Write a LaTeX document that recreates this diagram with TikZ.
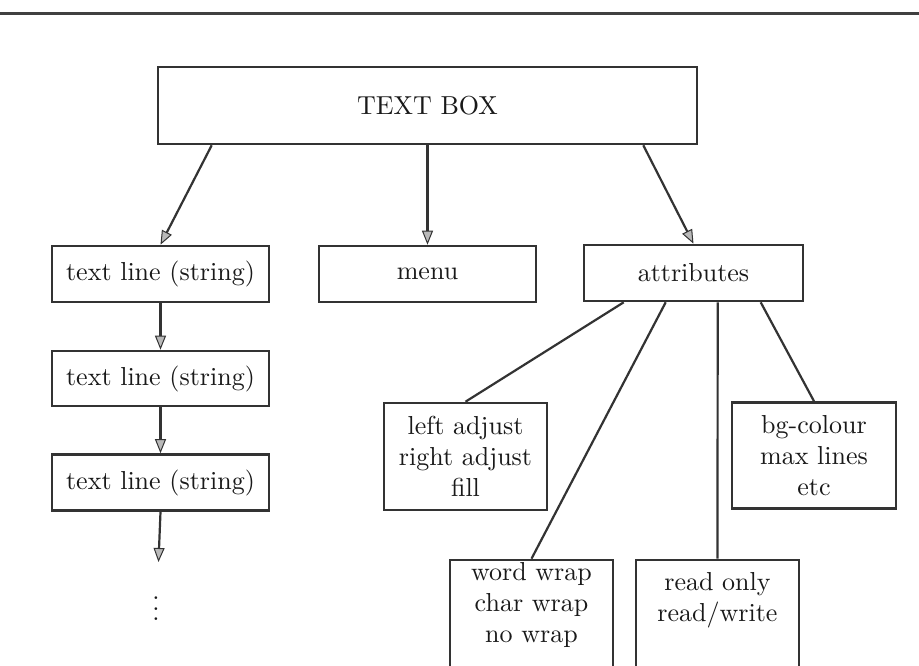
\documentclass[tikz,border=0pt]{standalone}
\usepackage{fontspec}
\setmainfont{lmroman10-regular.otf}
\usetikzlibrary{arrows.meta}
\begin{document}
\begin{tikzpicture}[x=1pt,y=-1pt,
  every node/.style={font=\fontsize{26}{31}\selectfont, text=black!90},
  boxst/.style={draw=black!80, line width=2.6pt, rectangle, inner sep=0pt, align=center},
  lnk/.style={draw=black!80, line width=2.2pt},
  arr/.style={lnk, -{Triangle[length=14pt,width=11pt,line width=1pt,fill=gray!55]}},
  txt/.style={align=center, inner sep=0pt}
]
\clip (0,0) rectangle (919,665);
\fill[white] (0,0) rectangle (919,665);
% top rule
\coordinate (rl) at (0,13);
\coordinate (rr) at (919,13);
\draw[black!75, line width=3pt] (rl) -- (rr);

% nodes
\node[boxst, minimum width=539pt, minimum height=77pt] (tb) at (427.5,105.5) {TEXT BOX};
\node[boxst, minimum width=217pt, minimum height=56pt] (tl1) at (160.5,274) {text line (string)};
\node[boxst, minimum width=217pt, minimum height=55pt] (tl2) at (160.5,378.5) {text line (string)};
\node[boxst, minimum width=217pt, minimum height=56pt] (tl3) at (160.5,482.5) {text line (string)};
\node[boxst, minimum width=217pt, minimum height=56pt] (menu) at (427.5,274) {menu};
\node[boxst, minimum width=219pt, minimum height=56pt] (attr) at (693.5,273) {attributes};
\node[boxst, minimum width=163pt, minimum height=107pt] (la) at (465.5,456.5) {left adjust\\right adjust\\fill};
\node[boxst, minimum width=164pt, minimum height=106pt] (bg) at (814,455.5) {bg-colour\\max lines\\etc};
\node[boxst, minimum width=163pt, minimum height=160pt] (ww) at (531.5,640) {};
\node[txt] (wwt) at (531.5,605) {word wrap\\char wrap\\no wrap};
\node[boxst, minimum width=163pt, minimum height=160pt] (ro) at (717.5,640) {};
\node[txt] (rot) at (717.5,600) {read only\\read/write};
\node[txt, font=\fontsize{26}{10.5}\selectfont] (dots) at (156,609) {.\\.\\.};
\coordinate (tlend) at (158.5,562);

% connectors
\draw[arr] ([xshift=55pt]tb.south west) -- (tl1.north);
\draw[arr] (tb.south) -- (menu.north);
\draw[arr] ([xshift=-55pt]tb.south east) -- (attr.north);
\draw[arr] (tl1.south) -- (tl2.north);
\draw[arr] (tl2.south) -- (tl3.north);
\draw[arr] (tl3.south) -- (tlend);

\draw[lnk] ([xshift=41pt]attr.south west) -- (la.north);
\draw[lnk] ([xshift=83pt]attr.south west) -- (ww.north);
\draw[lnk] ([xshift=135pt]attr.south west) -- (ro.north);
\draw[lnk] ([xshift=178pt]attr.south west) -- (bg.north);
\end{tikzpicture}
\end{document}
